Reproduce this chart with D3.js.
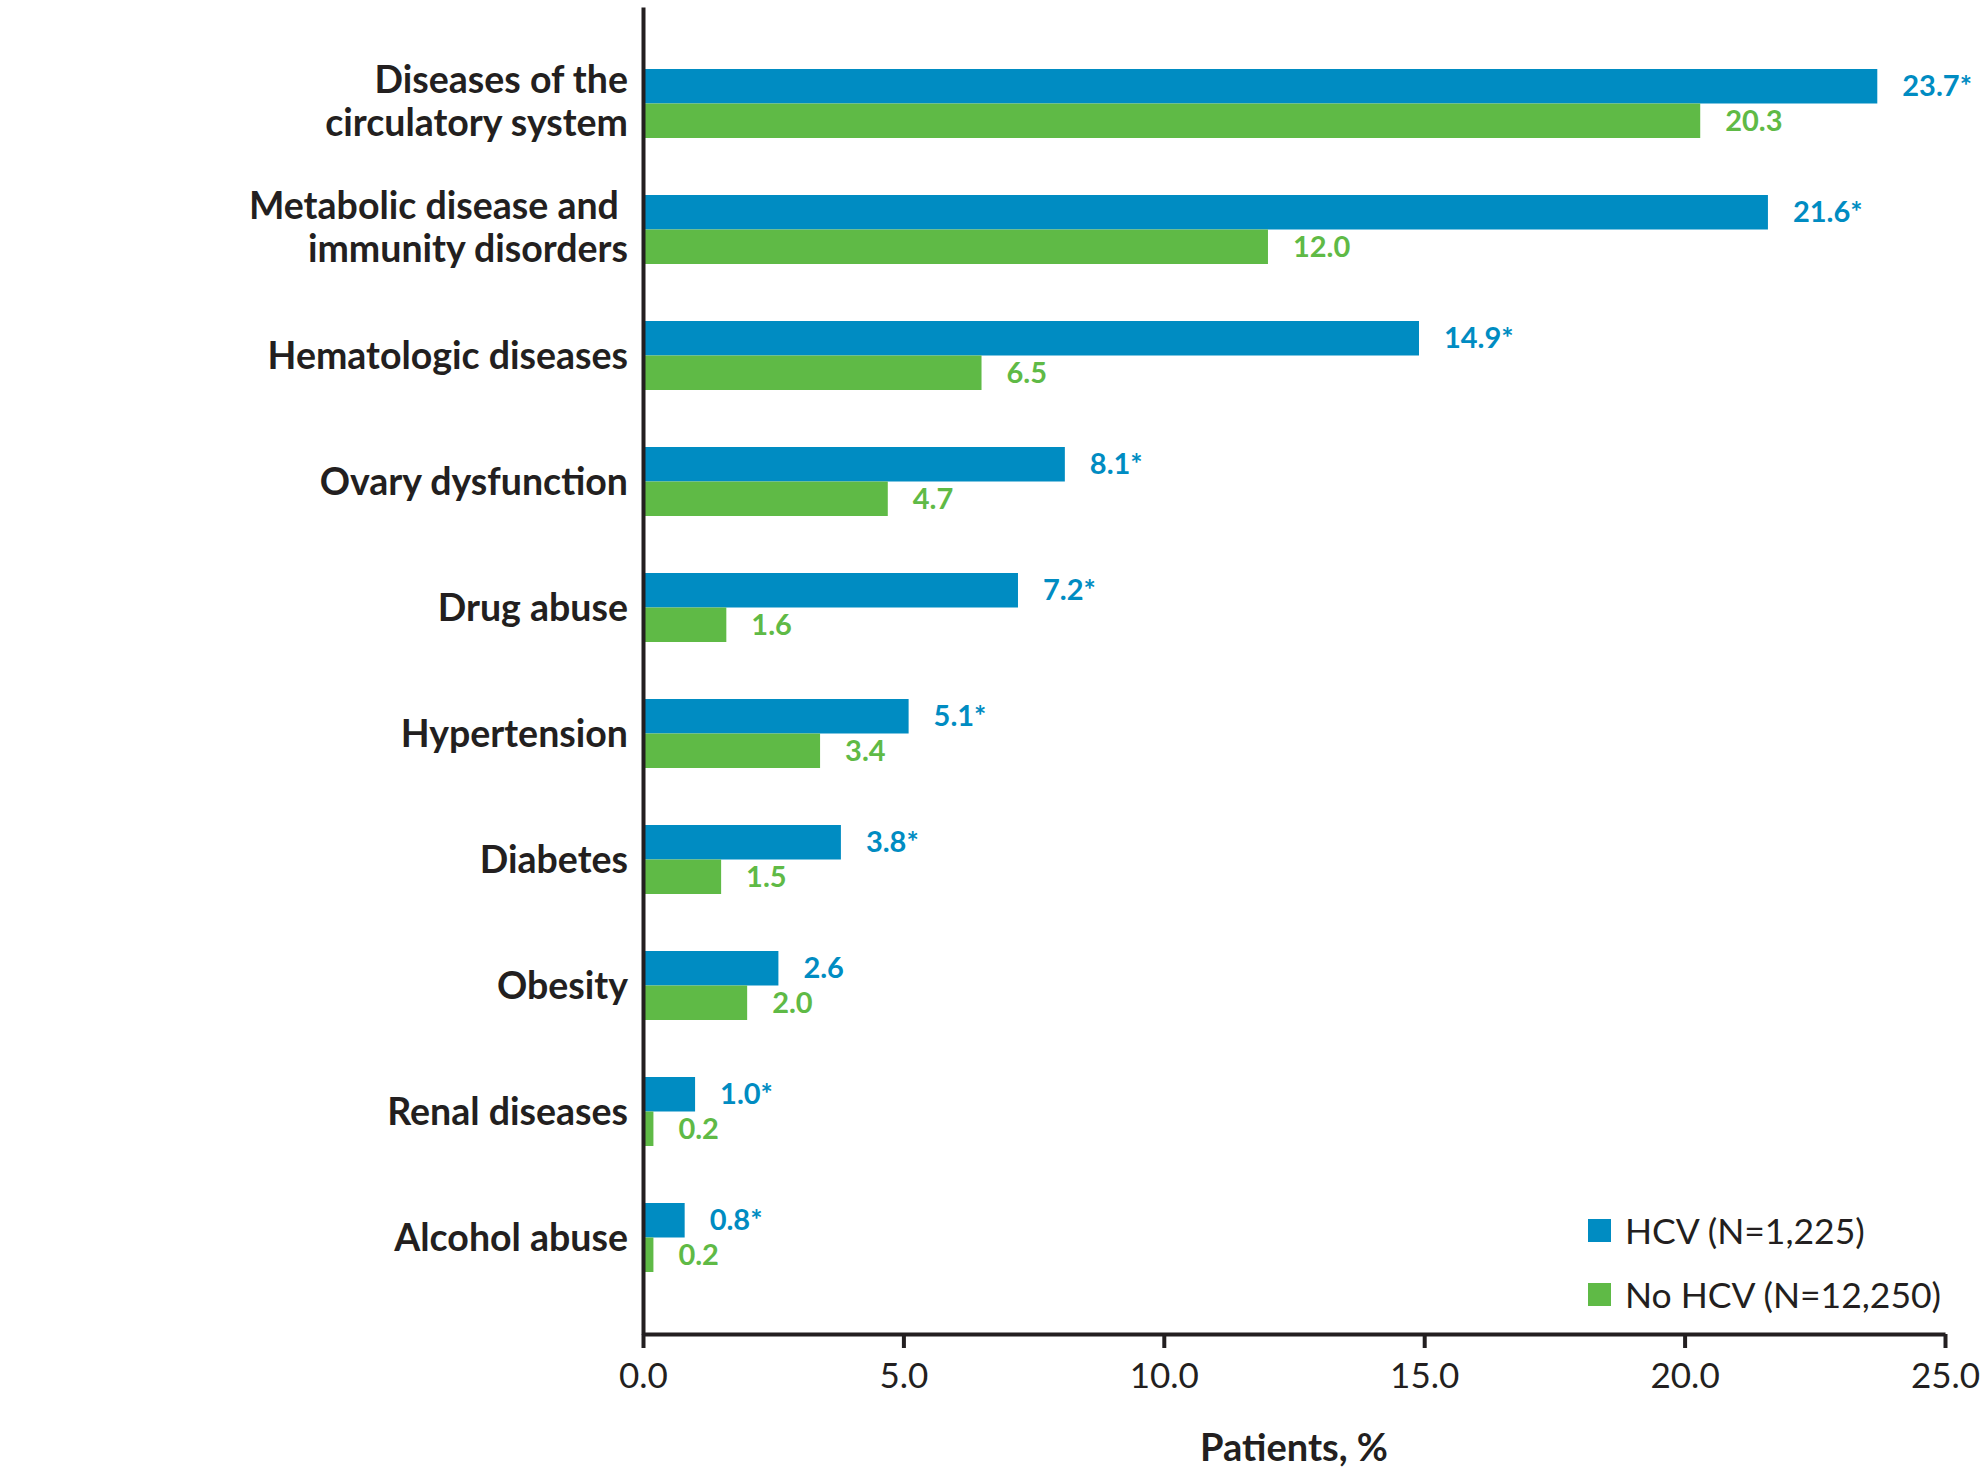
<!DOCTYPE html>
<html>
<head>
<meta charset="utf-8">
<script src="https://cdn.jsdelivr.net/npm/d3@7/dist/d3.min.js"></script>
<style>
  html, body { margin: 0; padding: 0; background: #ffffff; }
  svg { display: block; font-family: Lato, "Open Sans", sans-serif; }
</style>
</head>
<body>
<svg id="chart" width="1980" height="1476"></svg>
<script>
// Comorbidities by group, percentage of patients
const categories = [
  "Diseases of the\ncirculatory system",
  "Metabolic disease and\u00a0\nimmunity disorders",
  "Hematologic diseases",
  "Ovary dysfunction",
  "Drug abuse",
  "Hypertension",
  "Diabetes",
  "Obesity",
  "Renal diseases",
  "Alcohol abuse"
];
const hcvValues   = [23.7, 21.6, 14.9, 8.1, 7.2, 5.1, 3.8, 2.6, 1.0, 0.8];
const hcvSignif   = [true, true, true, true, true, true, true, false, true, true];
const noHcvValues = [20.3, 12.0, 6.5, 4.7, 1.6, 3.4, 1.5, 2.0, 0.2, 0.2];
const seriesKeys   = ["hcv", "noHcv"];
const seriesLabels = ["HCV (N=1,225)", "No HCV (N=12,250)"];
const xTicks = [0, 5, 10, 15, 20, 25];

const colors = { hcv: "#008cc2", noHcv: "#5fba46" };
const ink = "#231f20";

const rows = categories.map((c, i) => ({
  category: c,
  hcv: hcvValues[i],
  noHcv: noHcvValues[i],
  sig: { hcv: hcvSignif[i], noHcv: false }
}));

const svg = d3.select("#chart");

const x = d3.scaleLinear().domain([0, 25]).range([643, 1945]);
const y = d3.scaleBand()
  .domain(categories)
  .range([40.5, 1300.5])
  .paddingInner(0.4524)
  .paddingOuter(0.2262);
const ySub = d3.scaleBand().domain(seriesKeys).range([0, y.bandwidth()]);

const axisY = 1334;
const fmt = d3.format(".1f");

// bars
const groups = svg.append("g").selectAll("g")
  .data(rows)
  .join("g")
  .attr("transform", d => `translate(0,${y(d.category)})`);

groups.selectAll("rect")
  .data(d => seriesKeys.map(k => ({ key: k, value: d[k] })))
  .join("rect")
  .attr("x", x(0))
  .attr("y", d => ySub(d.key))
  .attr("width", d => x(d.value) - x(0))
  .attr("height", ySub.bandwidth())
  .attr("fill", d => colors[d.key]);

// value labels
groups.selectAll("text.value")
  .data(d => seriesKeys.map(k => ({ key: k, value: d[k], sig: d.sig[k] })))
  .join("text")
  .attr("class", "value")
  .attr("x", d => x(d.value) + 25)
  .attr("y", d => ySub(d.key) + ySub.bandwidth() / 2 + 10)
  .attr("fill", d => colors[d.key])
  .attr("font-size", 29)
  .attr("font-weight", 700)
  .text(d => fmt(d.value) + (d.sig ? "*" : ""));

// category labels (may span two lines)
const catLabels = svg.append("g").selectAll("text")
  .data(categories)
  .join("text")
  .attr("text-anchor", "end")
  .attr("font-size", 37.5)
  .attr("font-weight", 700)
  .attr("fill", ink);

catLabels.each(function (c) {
  const lines = c.split("\n");
  const cy = y(c) + y.bandwidth() / 2 - (lines.length > 1 ? 2.5 : 0);
  const lh = 43;
  const t = d3.select(this);
  lines.forEach((ln, j) => {
    t.append("tspan")
      .attr("x", 628)
      .attr("y", cy + (j - (lines.length - 1) / 2) * lh + 13)
      .text(ln);
  });
});

// x axis
const xAxis = svg.append("g")
  .attr("transform", `translate(0,${axisY})`)
  .call(d3.axisBottom(x).tickValues(xTicks).tickFormat(fmt).tickSize(14).tickSizeOuter(0));
xAxis.select(".domain").attr("stroke", ink).attr("stroke-width", 4);
xAxis.selectAll(".tick line").attr("stroke", ink).attr("stroke-width", 4);
xAxis.selectAll(".tick text")
  .attr("y", 54)
  .attr("dy", 0)
  .attr("fill", ink)
  .attr("font-size", 35)
  .attr("font-family", "Lato, 'Open Sans', sans-serif");

// y axis line
const yLine = d3.scaleLinear().domain([0, 1]).range([axisY, 7]);
const yAxis = svg.append("g")
  .attr("transform", `translate(${x(0)},0)`)
  .call(d3.axisLeft(yLine).tickValues([]).tickSizeOuter(0));
yAxis.select(".domain").attr("stroke", ink).attr("stroke-width", 4);

// axis title
svg.append("text")
  .attr("x", (x(0) + x(25)) / 2)
  .attr("y", 1461)
  .attr("text-anchor", "middle")
  .attr("font-size", 38)
  .attr("font-weight", 700)
  .attr("fill", ink)
  .text("Patients, %");

// legend
const legend = svg.append("g").attr("transform", "translate(1588,1219)");
const li = legend.selectAll("g")
  .data(seriesKeys)
  .join("g")
  .attr("transform", (d, i) => `translate(0,${i * 64})`);
li.append("rect")
  .attr("width", 23)
  .attr("height", 23)
  .attr("fill", d => colors[d]);
li.append("text")
  .attr("x", 37)
  .attr("y", 25)
  .attr("font-size", 35.5)
  .attr("fill", ink)
  .text((d, i) => seriesLabels[i]);
</script>
</body>
</html>
